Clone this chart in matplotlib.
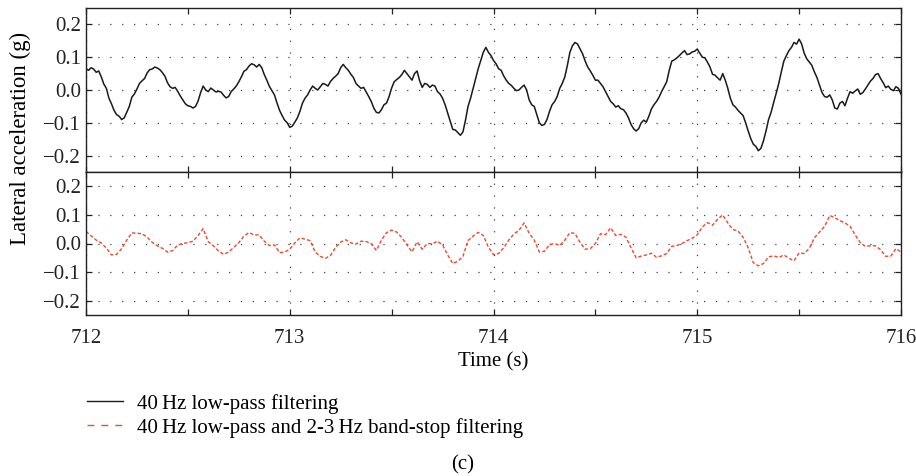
import numpy as np
import matplotlib
matplotlib.use("Agg")
import matplotlib.pyplot as plt
from matplotlib.lines import Line2D
from matplotlib.ticker import MultipleLocator

plt.rcParams['font.family'] = ['Liberation Serif', 'DejaVu Serif']

# time axis: 712 s to 716 s
t_start, t_end = 712.0, 716.0

# 40 Hz low-pass series, one sample every 0.0125 s (321 samples)
lowpass = [
    0.065, 0.060, 0.068, 0.064, 0.054, 0.058, 0.040, 0.018, 0.005, -0.025,
    -0.042, -0.062, -0.075, -0.080, -0.090, -0.085, -0.068, -0.050, -0.022, -0.012,
    0.003, 0.020, 0.028, 0.035, 0.052, 0.062, 0.064, 0.070, 0.067, 0.062,
    0.053, 0.042, 0.022, 0.010, 0.005, 0.008, -0.004, -0.018, -0.030, -0.042,
    -0.048, -0.050, -0.055, -0.050, -0.034, -0.008, 0.012, 0.000, -0.005, 0.006,
    0.000, -0.006, -0.004, -0.006, -0.016, -0.024, -0.020, -0.005, 0.003, 0.012,
    0.025, 0.040, 0.057, 0.062, 0.073, 0.080, 0.077, 0.070, 0.078, 0.068,
    0.047, 0.030, 0.011, -0.002, -0.015, -0.040, -0.062, -0.078, -0.092, -0.100,
    -0.114, -0.110, -0.098, -0.085, -0.065, -0.040, -0.025, -0.015, 0.000, 0.012,
    0.005, 0.000, 0.010, 0.020, 0.017, 0.012, 0.026, 0.035, 0.042, 0.050,
    0.068, 0.078, 0.068, 0.060, 0.048, 0.038, 0.020, 0.012, 0.005, 0.008,
    -0.006, -0.020, -0.035, -0.055, -0.068, -0.070, -0.060, -0.045, -0.040, -0.020,
    0.006, 0.025, 0.032, 0.038, 0.047, 0.060, 0.050, 0.040, 0.030, 0.050,
    0.058, 0.028, 0.008, 0.020, 0.017, 0.008, 0.015, 0.012, -0.005, -0.012,
    -0.025, -0.045, -0.070, -0.095, -0.120, -0.122, -0.130, -0.138, -0.128, -0.092,
    -0.050, -0.025, 0.005, 0.035, 0.065, 0.090, 0.115, 0.130, 0.115, 0.105,
    0.090, 0.080, 0.065, 0.060, 0.043, 0.030, 0.020, 0.014, 0.005, -0.002,
    0.000, 0.008, 0.015, 0.000, -0.030, -0.045, -0.050, -0.075, -0.100, -0.108,
    -0.105, -0.090, -0.065, -0.045, -0.035, -0.020, 0.005, 0.020, 0.040, 0.075,
    0.115, 0.135, 0.145, 0.140, 0.125, 0.110, 0.088, 0.070, 0.058, 0.045,
    0.030, 0.030, 0.020, 0.010, -0.005, -0.020, -0.035, -0.042, -0.052, -0.048,
    -0.057, -0.060, -0.070, -0.085, -0.105, -0.118, -0.125, -0.118, -0.100, -0.092,
    -0.098, -0.080, -0.058, -0.045, -0.035, -0.022, -0.005, 0.010, 0.025, 0.060,
    0.088, 0.092, 0.098, 0.105, 0.113, 0.120, 0.108, 0.110, 0.116, 0.118,
    0.125, 0.112, 0.100, 0.098, 0.085, 0.070, 0.048, 0.045, 0.037, 0.030,
    0.050, 0.030, 0.005, -0.025, -0.045, -0.052, -0.062, -0.070, -0.078, -0.100,
    -0.125, -0.148, -0.165, -0.172, -0.185, -0.178, -0.155, -0.125, -0.090, -0.068,
    -0.038, -0.010, 0.020, 0.055, 0.088, 0.105, 0.120, 0.130, 0.145, 0.140,
    0.155, 0.140, 0.112, 0.095, 0.085, 0.075, 0.055, 0.038, 0.015, -0.008,
    -0.020, -0.022, -0.015, -0.030, -0.055, -0.058, -0.040, -0.035, -0.048, -0.025,
    -0.005, -0.010, -0.003, 0.003, -0.013, -0.008, 0.003, 0.015, 0.027, 0.035,
    0.047, 0.050, 0.035, 0.022, 0.007, 0.012, 0.002, -0.002, 0.010, 0.005,
    -0.013,
]

# 40 Hz low-pass + 2-3 Hz band-stop series, one sample every 0.025 s (161 samples)
bandstop = [
    0.042, 0.027, 0.012, 0.002, -0.016, -0.040, -0.038, -0.018, 0.012, 0.037,
    0.036, 0.034, 0.022, 0.004, -0.008, -0.017, -0.030, -0.025, -0.005, 0.000,
    0.003, 0.008, 0.028, 0.052, 0.006, -0.008, -0.026, -0.038, -0.030, -0.014,
    0.003, 0.026, 0.038, 0.030, 0.030, 0.008, -0.007, -0.005, -0.032, -0.030,
    -0.020, 0.002, 0.020, 0.015, 0.010, -0.030, -0.045, -0.052, -0.042, -0.014,
    0.005, 0.013, 0.002, -0.002, 0.008, 0.007, -0.001, -0.024, 0.012, 0.038,
    0.047, 0.040, 0.021, -0.005, -0.029, 0.006, -0.020, 0.000, -0.001, 0.008,
    -0.005, -0.040, -0.070, -0.062, -0.045, 0.010, 0.026, 0.039, 0.028, -0.013,
    -0.039, -0.035, -0.015, 0.012, 0.033, 0.046, 0.072, 0.036, 0.012, -0.030,
    -0.027, -0.004, 0.000, -0.007, 0.012, 0.038, 0.035, 0.004, -0.020, -0.018,
    0.000, 0.034, 0.031, 0.055, 0.028, 0.032, 0.022, -0.015, -0.050, -0.044,
    -0.040, -0.034, -0.048, -0.043, -0.035, -0.010, -0.007, 0.000, 0.010, 0.018,
    0.030, 0.058, 0.073, 0.064, 0.085, 0.100, 0.072, 0.049, 0.044, 0.022,
    -0.015, -0.067, -0.078, -0.070, -0.047, -0.043, -0.049, -0.040, -0.052, -0.060,
    -0.033, -0.035, -0.017, 0.020, 0.040, 0.060, 0.098, 0.090, 0.080, 0.072,
    0.060, 0.030, 0.003, -0.010, -0.008, -0.008, -0.022, -0.045, -0.044, -0.018,
    -0.030,
]

x_ticks = [712, 713, 714, 715, 716]
y_ticks = [-0.2, -0.1, 0.0, 0.1, 0.2]
y_labels = ['\u22120.2', '\u22120.1', '0.0', '0.1', '0.2']
legend_labels = ['40\u2009Hz low-pass filtering',
                 '40\u2009Hz low-pass and 2-3\u2009Hz band-stop filtering']

t_low = np.linspace(t_start, t_end, len(lowpass))
t_band = np.linspace(t_start, t_end, len(bandstop))

W, H = 916, 476
fig = plt.figure(figsize=(W / 100, H / 100), dpi=100)
left, right = 86 / W, 901 / W
ax1 = fig.add_axes([left, 1 - 172 / H, right - left, (172 - 8) / H])
ax2 = fig.add_axes([left, 1 - 315 / H, right - left, (315 - 172) / H])

fs = 15
red = '#ec4a2e'
black = '#1a1a1a'
ax1.plot(t_low, lowpass, color=black, lw=1.1)
ax2.plot(t_band, bandstop, color=red, lw=1.0, linestyle=(0, (2.5, 1.5)))

for ax in (ax1, ax2):
    ax.set_xlim(712, 716)
    ax.set_ylim(-0.25, 0.25)
    ax.set_xticks(x_ticks)
    ax.xaxis.set_minor_locator(MultipleLocator(0.5))
    ax.set_yticks(y_ticks)
    ax.set_yticklabels(y_labels, fontsize=fs)
    ax.tick_params(which='both', direction='in', top=True, right=True,
                   length=4, width=0.9, colors='#222222')
    ax.grid(True, which='major', color='#444444', linestyle=(0, (1, 8.5)), lw=0.9)
    for s in ax.spines.values():
        s.set_linewidth(1.0)
        s.set_color('#222222')

ax1.tick_params(labelbottom=False)
ax2.set_xticklabels([str(v) for v in x_ticks], fontsize=fs)
ax2.tick_params(axis='x', pad=10)
ax2.set_xlabel('Time (s)', fontsize=fs, labelpad=3)

fig.text(20 / W, 1 - 138 / H, 'Lateral acceleration (g)', rotation=90,
         ha='center', va='center', fontsize=16.5)

h1 = Line2D([], [], color=black, lw=1.0)
h2 = Line2D([], [], color=red, lw=1.0, linestyle=(0, (5, 5)))
fig.legend([h1, h2], legend_labels, loc='upper left',
           bbox_to_anchor=(68 / W, 1 - 375 / H), frameon=False, fontsize=fs,
           handlelength=1.75, handletextpad=0.65, labelspacing=0.2)

fig.text(463 / W, 1 - 465 / H, '(c)', ha='center', va='center', fontsize=fs)

fig.savefig('out.png', dpi=100)
